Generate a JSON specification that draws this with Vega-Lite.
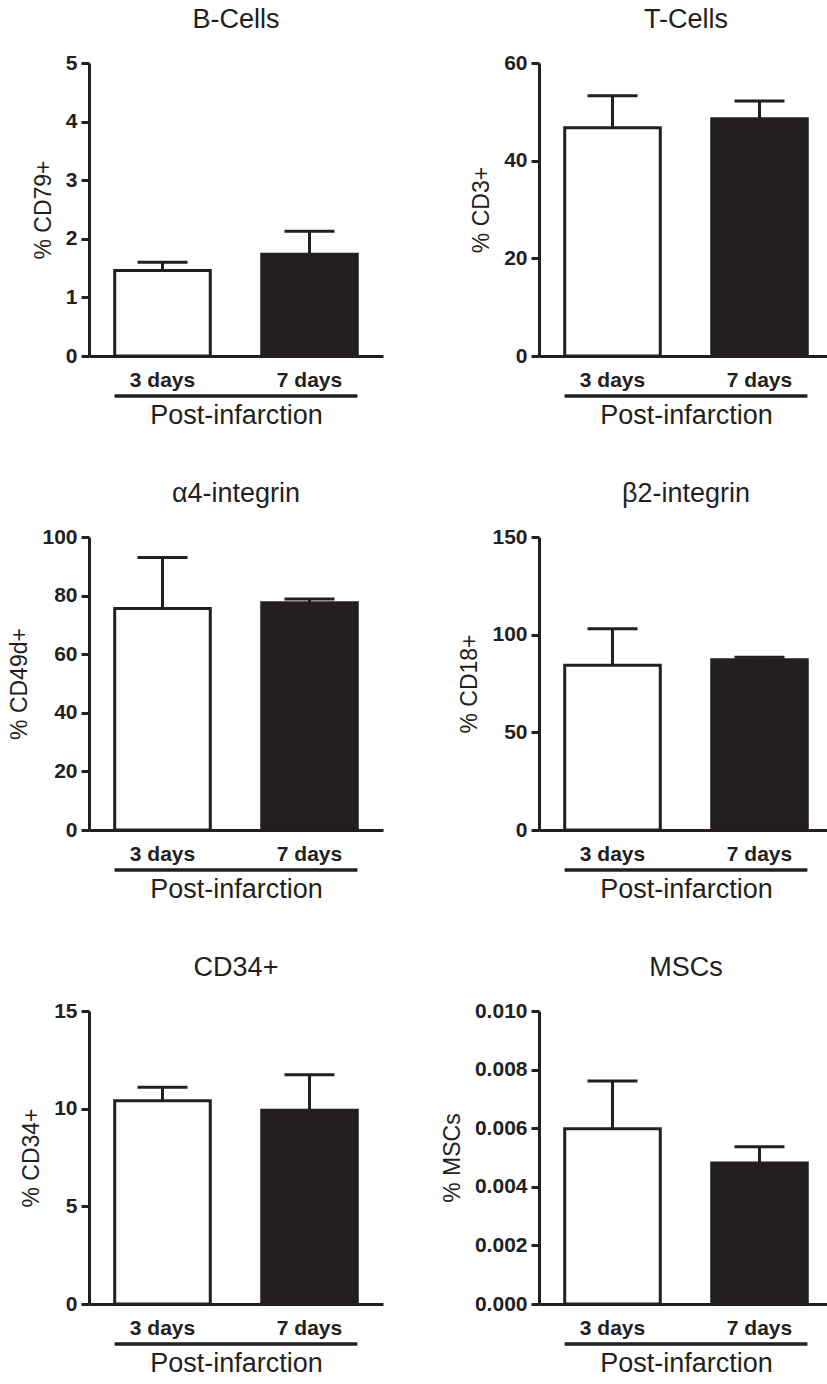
{
  "$schema": "https://vega.github.io/schema/vega-lite/v6.json",
  "padding": {"left": 8, "top": 6, "right": 0, "bottom": 0},
  "background": "white",
  "datasets": {
    "bars": [
      {"panel": "B-Cells", "day": "3 days", "mean": 1.46, "upper": 1.60},
      {"panel": "B-Cells", "day": "7 days", "mean": 1.735, "upper": 2.13},
      {"panel": "T-Cells", "day": "3 days", "mean": 46.75, "upper": 53.3},
      {"panel": "T-Cells", "day": "7 days", "mean": 48.6, "upper": 52.2},
      {"panel": "a4", "day": "3 days", "mean": 75.6, "upper": 93.0},
      {"panel": "a4", "day": "7 days", "mean": 77.6, "upper": 78.8},
      {"panel": "b2", "day": "3 days", "mean": 84.4, "upper": 103.0},
      {"panel": "b2", "day": "7 days", "mean": 87.1, "upper": 88.5},
      {"panel": "CD34", "day": "3 days", "mean": 10.4, "upper": 11.1},
      {"panel": "CD34", "day": "7 days", "mean": 9.92, "upper": 11.74},
      {"panel": "MSCs", "day": "3 days", "mean": 0.00598, "upper": 0.00761},
      {"panel": "MSCs", "day": "7 days", "mean": 0.00481, "upper": 0.00537}
    ]
  },
  "columns": 2,
  "bounds": "flush",
  "spacing": {"row": 181, "column": 156},
  "concat": [
    {
      "title": "B-Cells",
      "width": 294, "height": 293,
      "data": {"name": "bars"},
      "transform": [{"filter": "datum.panel === 'B-Cells'"}],
      "encoding": {"x": {"field": "day", "type": "nominal", "title": "Post-infarction", "scale": {"paddingInner": 0.35, "paddingOuter": 0.175}}},
      "layer": [
        {"mark": {"type": "bar", "stroke": "#231f20", "strokeWidth": 3},
         "encoding": {"y": {"field": "mean", "type": "quantitative", "title": "% CD79+", "scale": {"domain": [0, 5], "nice": false}, "axis": {"values": [0, 1, 2, 3, 4, 5], "format": "d"}},
                      "fill": {"field": "day", "type": "nominal", "scale": {"range": ["#ffffff", "#231f20"]}, "legend": null}}},
        {"mark": {"type": "rule", "strokeWidth": 3, "color": "#231f20"},
         "encoding": {"y": {"field": "mean", "type": "quantitative", "title": "% CD79+"}, "y2": {"field": "upper", "title": "% CD79+"}}},
        {"mark": {"type": "tick", "size": 50, "thickness": 3, "color": "#231f20", "opacity": 1},
         "encoding": {"y": {"field": "upper", "type": "quantitative", "title": "% CD79+"}}},
        {"mark": {"type": "rule", "strokeWidth": 3, "color": "#231f20", "yOffset": 40},
         "encoding": {"x": {"datum": "3 days", "bandPosition": 0}, "x2": {"datum": "7 days", "bandPosition": 1}, "y": {"datum": 0, "type": "quantitative", "title": "% CD79+"}}}
      ]
    },
    {
      "title": "T-Cells",
      "width": 294, "height": 293,
      "data": {"name": "bars"},
      "transform": [{"filter": "datum.panel === 'T-Cells'"}],
      "encoding": {"x": {"field": "day", "type": "nominal", "title": "Post-infarction", "scale": {"paddingInner": 0.35, "paddingOuter": 0.175}}},
      "layer": [
        {"mark": {"type": "bar", "stroke": "#231f20", "strokeWidth": 3},
         "encoding": {"y": {"field": "mean", "type": "quantitative", "title": "% CD3+", "scale": {"domain": [0, 60], "nice": false}, "axis": {"values": [0, 20, 40, 60], "format": "d"}},
                      "fill": {"field": "day", "type": "nominal", "scale": {"range": ["#ffffff", "#231f20"]}, "legend": null}}},
        {"mark": {"type": "rule", "strokeWidth": 3, "color": "#231f20"},
         "encoding": {"y": {"field": "mean", "type": "quantitative", "title": "% CD3+"}, "y2": {"field": "upper", "title": "% CD3+"}}},
        {"mark": {"type": "tick", "size": 50, "thickness": 3, "color": "#231f20", "opacity": 1},
         "encoding": {"y": {"field": "upper", "type": "quantitative", "title": "% CD3+"}}},
        {"mark": {"type": "rule", "strokeWidth": 3, "color": "#231f20", "yOffset": 40},
         "encoding": {"x": {"datum": "3 days", "bandPosition": 0}, "x2": {"datum": "7 days", "bandPosition": 1}, "y": {"datum": 0, "type": "quantitative", "title": "% CD3+"}}}
      ]
    },
    {
      "title": "α4-integrin",
      "width": 294, "height": 293,
      "data": {"name": "bars"},
      "transform": [{"filter": "datum.panel === 'a4'"}],
      "encoding": {"x": {"field": "day", "type": "nominal", "title": "Post-infarction", "scale": {"paddingInner": 0.35, "paddingOuter": 0.175}}},
      "layer": [
        {"mark": {"type": "bar", "stroke": "#231f20", "strokeWidth": 3},
         "encoding": {"y": {"field": "mean", "type": "quantitative", "title": "% CD49d+", "scale": {"domain": [0, 100], "nice": false}, "axis": {"values": [0, 20, 40, 60, 80, 100], "format": "d"}},
                      "fill": {"field": "day", "type": "nominal", "scale": {"range": ["#ffffff", "#231f20"]}, "legend": null}}},
        {"mark": {"type": "rule", "strokeWidth": 3, "color": "#231f20"},
         "encoding": {"y": {"field": "mean", "type": "quantitative", "title": "% CD49d+"}, "y2": {"field": "upper", "title": "% CD49d+"}}},
        {"mark": {"type": "tick", "size": 50, "thickness": 3, "color": "#231f20", "opacity": 1},
         "encoding": {"y": {"field": "upper", "type": "quantitative", "title": "% CD49d+"}}},
        {"mark": {"type": "rule", "strokeWidth": 3, "color": "#231f20", "yOffset": 40},
         "encoding": {"x": {"datum": "3 days", "bandPosition": 0}, "x2": {"datum": "7 days", "bandPosition": 1}, "y": {"datum": 0, "type": "quantitative", "title": "% CD49d+"}}}
      ]
    },
    {
      "title": "β2-integrin",
      "width": 294, "height": 293,
      "data": {"name": "bars"},
      "transform": [{"filter": "datum.panel === 'b2'"}],
      "encoding": {"x": {"field": "day", "type": "nominal", "title": "Post-infarction", "scale": {"paddingInner": 0.35, "paddingOuter": 0.175}}},
      "layer": [
        {"mark": {"type": "bar", "stroke": "#231f20", "strokeWidth": 3},
         "encoding": {"y": {"field": "mean", "type": "quantitative", "title": "% CD18+", "scale": {"domain": [0, 150], "nice": false}, "axis": {"values": [0, 50, 100, 150], "format": "d"}},
                      "fill": {"field": "day", "type": "nominal", "scale": {"range": ["#ffffff", "#231f20"]}, "legend": null}}},
        {"mark": {"type": "rule", "strokeWidth": 3, "color": "#231f20"},
         "encoding": {"y": {"field": "mean", "type": "quantitative", "title": "% CD18+"}, "y2": {"field": "upper", "title": "% CD18+"}}},
        {"mark": {"type": "tick", "size": 50, "thickness": 3, "color": "#231f20", "opacity": 1},
         "encoding": {"y": {"field": "upper", "type": "quantitative", "title": "% CD18+"}}},
        {"mark": {"type": "rule", "strokeWidth": 3, "color": "#231f20", "yOffset": 40},
         "encoding": {"x": {"datum": "3 days", "bandPosition": 0}, "x2": {"datum": "7 days", "bandPosition": 1}, "y": {"datum": 0, "type": "quantitative", "title": "% CD18+"}}}
      ]
    },
    {
      "title": "CD34+",
      "width": 294, "height": 293,
      "data": {"name": "bars"},
      "transform": [{"filter": "datum.panel === 'CD34'"}],
      "encoding": {"x": {"field": "day", "type": "nominal", "title": "Post-infarction", "scale": {"paddingInner": 0.35, "paddingOuter": 0.175}}},
      "layer": [
        {"mark": {"type": "bar", "stroke": "#231f20", "strokeWidth": 3},
         "encoding": {"y": {"field": "mean", "type": "quantitative", "title": "% CD34+", "scale": {"domain": [0, 15], "nice": false}, "axis": {"values": [0, 5, 10, 15], "format": "d"}},
                      "fill": {"field": "day", "type": "nominal", "scale": {"range": ["#ffffff", "#231f20"]}, "legend": null}}},
        {"mark": {"type": "rule", "strokeWidth": 3, "color": "#231f20"},
         "encoding": {"y": {"field": "mean", "type": "quantitative", "title": "% CD34+"}, "y2": {"field": "upper", "title": "% CD34+"}}},
        {"mark": {"type": "tick", "size": 50, "thickness": 3, "color": "#231f20", "opacity": 1},
         "encoding": {"y": {"field": "upper", "type": "quantitative", "title": "% CD34+"}}},
        {"mark": {"type": "rule", "strokeWidth": 3, "color": "#231f20", "yOffset": 40},
         "encoding": {"x": {"datum": "3 days", "bandPosition": 0}, "x2": {"datum": "7 days", "bandPosition": 1}, "y": {"datum": 0, "type": "quantitative", "title": "% CD34+"}}}
      ]
    },
    {
      "title": "MSCs",
      "width": 294, "height": 293,
      "data": {"name": "bars"},
      "transform": [{"filter": "datum.panel === 'MSCs'"}],
      "encoding": {"x": {"field": "day", "type": "nominal", "title": "Post-infarction", "scale": {"paddingInner": 0.35, "paddingOuter": 0.175}}},
      "layer": [
        {"mark": {"type": "bar", "stroke": "#231f20", "strokeWidth": 3},
         "encoding": {"y": {"field": "mean", "type": "quantitative", "title": "% MSCs", "scale": {"domain": [0, 0.01], "nice": false}, "axis": {"values": [0, 0.002, 0.004, 0.006, 0.008, 0.01], "format": ".3f"}},
                      "fill": {"field": "day", "type": "nominal", "scale": {"range": ["#ffffff", "#231f20"]}, "legend": null}}},
        {"mark": {"type": "rule", "strokeWidth": 3, "color": "#231f20"},
         "encoding": {"y": {"field": "mean", "type": "quantitative", "title": "% MSCs"}, "y2": {"field": "upper", "title": "% MSCs"}}},
        {"mark": {"type": "tick", "size": 50, "thickness": 3, "color": "#231f20", "opacity": 1},
         "encoding": {"y": {"field": "upper", "type": "quantitative", "title": "% MSCs"}}},
        {"mark": {"type": "rule", "strokeWidth": 3, "color": "#231f20", "yOffset": 40},
         "encoding": {"x": {"datum": "3 days", "bandPosition": 0}, "x2": {"datum": "7 days", "bandPosition": 1}, "y": {"datum": 0, "type": "quantitative", "title": "% MSCs"}}}
      ]
    }
  ],
  "config": {
    "font": "Liberation Sans",
    "view": {"stroke": null},
    "title": {"font": "Liberation Sans", "fontSize": 27, "fontWeight": "normal", "color": "#231f20", "offset": 18},
    "axis": {
      "grid": false,
      "domainColor": "#231f20", "domainWidth": 3,
      "tickColor": "#231f20", "tickWidth": 3, "tickSize": 8,
      "labelFont": "Liberation Sans", "labelFontWeight": "bold", "labelFontSize": 21, "labelColor": "#231f20",
      "titleFont": "Liberation Sans", "titleFontWeight": "normal", "titleFontSize": 23, "titleColor": "#231f20"
    },
    "axisX": {"ticks": false, "labelAngle": 0, "labelFontSize": 21, "labelPadding": 13, "titleFontSize": 27, "titlePadding": 12},
    "axisY": {"labelPadding": 4, "titlePadding": 10}
  }
}
